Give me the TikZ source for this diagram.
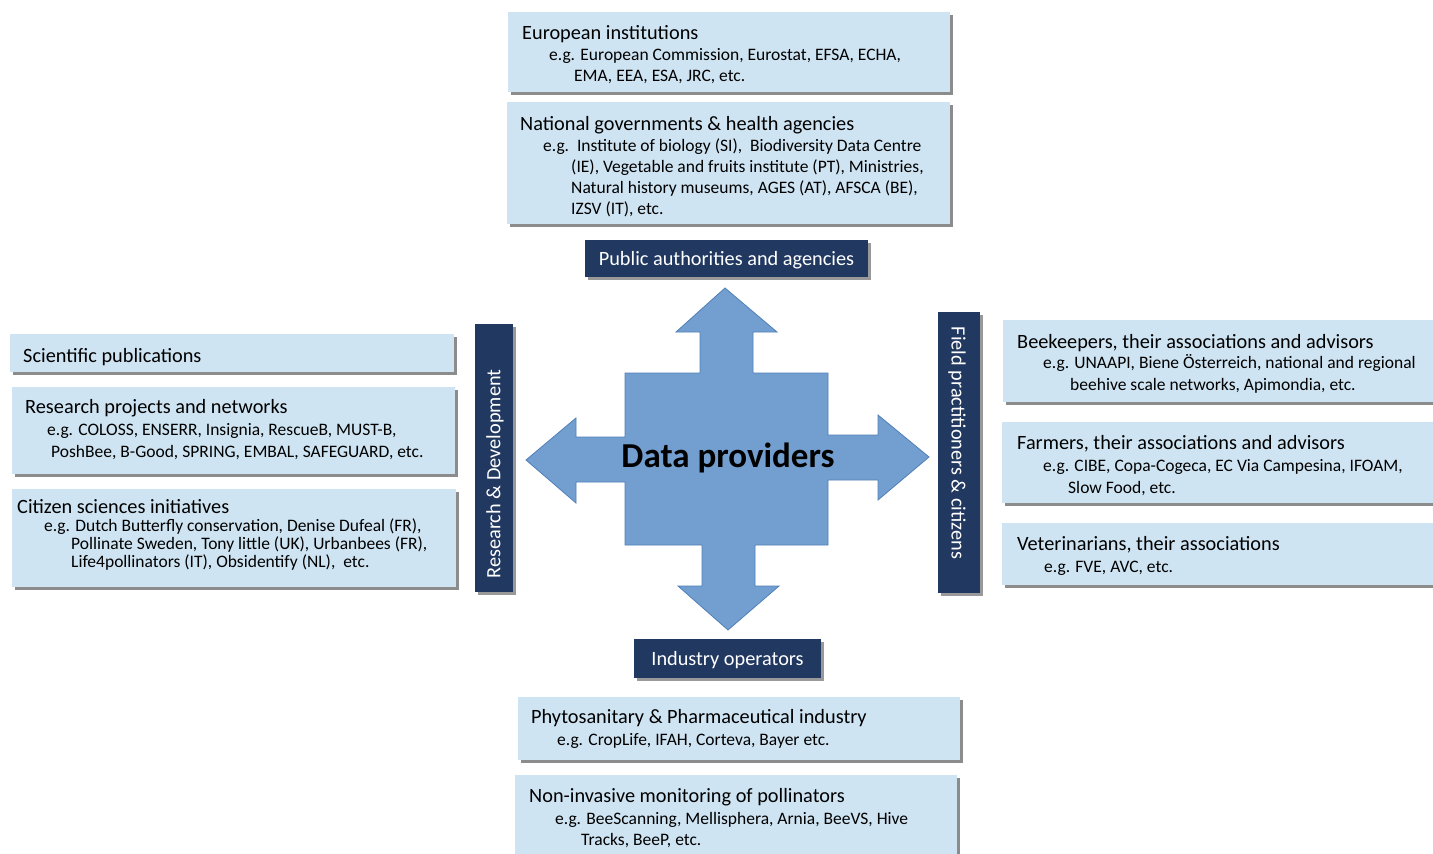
\documentclass[tikz,border=0pt]{standalone}
\usepackage{fontspec}
\setmainfont{Carlito}
\usetikzlibrary{shadows}
\definecolor{lightbox}{RGB}{207,228,242}
\definecolor{darkbox}{RGB}{33,56,97}
\definecolor{arrowfill}{RGB}{114,159,207}
\definecolor{arrowline}{RGB}{80,128,185}
\tikzset{
  lbox/.style={fill=lightbox, draw=none, inner sep=0pt, outer sep=0pt,
    drop shadow={shadow xshift=3pt, shadow yshift=-3pt, fill=black!45, opacity=1}},
  dbox/.style={fill=darkbox, draw=none, inner sep=0pt, outer sep=0pt, text=white,
    font=\fontsize{20.3}{22}\selectfont, text depth=0pt,
    drop shadow={shadow xshift=3pt, shadow yshift=-3pt, fill=black!40, opacity=1}},
  ttl/.style={anchor=base west, inner sep=0pt, font=\fontsize{20.3}{22}\selectfont},
  sub/.style={anchor=base west, inner sep=0pt, font=\fontsize{17.5}{20}\selectfont},
  vlbl/.style={text=white, font=\fontsize{20.3}{22}\selectfont, inner sep=0pt},
}
\begin{document}
\begin{tikzpicture}[x=1pt,y=-1pt]
\useasboundingbox (0,0) rectangle (1433,854);
\fill[white] (0,0) rectangle (1433,854);

% ---- top boxes
\node[lbox, minimum width=442pt, minimum height=80pt] (eu) at (729,52) {};
\node[ttl] (eut) at (522,39) {European institutions};
\node[sub] (eus1) at (549,60) {e.g. European Commission, Eurostat, EFSA, ECHA,};
\node[sub] (eus2) at (574,81) {EMA, EEA, ESA, JRC, etc.};

\node[lbox, minimum width=443pt, minimum height=122pt] (nat) at (728.5,163) {};
\node[ttl] (natt) at (520,130) {National governments \& health agencies};
\node[sub] (nats1) at (543,151) {e.g.\ \ Institute of biology (SI),\ \ Biodiversity Data Centre};
\node[sub] (nats2) at (571,172) {(IE), Vegetable and fruits institute (PT), Ministries,};
\node[sub] (nats3) at (571,193) {Natural history museums, AGES (AT), AFSCA (BE),};
\node[sub] (nats4) at (571,214) {IZSV (IT), etc.};

\node[dbox, minimum width=283pt, minimum height=37pt] (pub) at (726.5,258.5) {Public authorities and agencies};

% ---- left boxes
\node[lbox, minimum width=444pt, minimum height=38pt] (sci) at (232,353) {};
\node[ttl] (scit) at (23,362) {Scientific publications};

\node[lbox, minimum width=443pt, minimum height=87pt] (rp) at (233.5,430.5) {};
\node[ttl] (rpt) at (25,413) {Research projects and networks};
\node[sub] (rps1) at (47,435) {e.g. COLOSS, ENSERR, Insignia, RescueB, MUST-B,};
\node[sub] (rps2) at (51,457) {PoshBee, B-Good, SPRING, EMBAL, SAFEGUARD, etc.};

\node[lbox, minimum width=444pt, minimum height=98pt] (cs) at (234,538) {};
\node[ttl] (cst) at (17,513) {Citizen sciences initiatives};
\node[sub] (css1) at (44,531) {e.g. Dutch Butterfly conservation, Denise Dufeal (FR),};
\node[sub] (css2) at (71,549) {Pollinate Sweden, Tony little (UK), Urbanbees (FR),};
\node[sub] (css3) at (71,567) {Life4pollinators (IT), Obsidentify (NL),\ \ etc.};

\node[dbox, minimum width=38pt, minimum height=268pt] (rd) at (494,458) {};
\node[vlbl, rotate=90] (rdt) at (495,474) {Research \& Development};

% ---- right boxes
\node[dbox, minimum width=42pt, minimum height=281pt] (fp) at (959,452.5) {};
\node[vlbl, rotate=-90] (fpt) at (957,443) {Field practitioners \& citizens};

\node[lbox, minimum width=433pt, minimum height=82pt] (bk) at (1219.5,361) {};
\node[ttl] (bkt) at (1017,348) {Beekeepers, their associations and advisors};
\node[sub] (bks1) at (1043,368) {e.g. UNAAPI, Biene Österreich, national and regional};
\node[sub] (bks2) at (1070,390) {beehive scale networks, Apimondia, etc.};

\node[lbox, minimum width=434pt, minimum height=81pt] (fa) at (1219,462.5) {};
\node[ttl] (fat) at (1017,449) {Farmers, their associations and advisors};
\node[sub] (fas1) at (1043,471) {e.g. CIBE, Copa-Cogeca, EC Via Campesina, IFOAM,};
\node[sub] (fas2) at (1068,493) {Slow Food, etc.};

\node[lbox, minimum width=434pt, minimum height=62pt] (ve) at (1219,554) {};
\node[ttl] (vet) at (1017,550) {Veterinarians, their associations};
\node[sub] (ves1) at (1044,572) {e.g. FVE, AVC, etc.};

% ---- bottom boxes
\node[dbox, minimum width=187pt, minimum height=39pt] (ind) at (727.5,658.5) {Industry operators};

\node[lbox, minimum width=442pt, minimum height=63pt] (ph) at (739,728.5) {};
\node[ttl] (pht) at (531,723) {Phytosanitary \& Pharmaceutical industry};
\node[sub] (phs1) at (557,745) {e.g. CropLife, IFAH, Corteva, Bayer etc.};

\node[lbox, minimum width=442pt, minimum height=95pt] (ni) at (736,822.5) {};
\node[ttl] (nit) at (529,802) {Non-invasive monitoring of pollinators};
\node[sub] (nis1) at (555,824) {e.g. BeeScanning, Mellisphera, Arnia, BeeVS, Hive};
\node[sub] (nis2) at (581,845) {Tracks, BeeP, etc.};

% ---- central four-way arrow
\draw[fill=arrowfill, draw=arrowline, line width=0.8pt, line join=miter]
  (725,288) -- (777,332) -- (753,332) -- (753,373) -- (828,373) -- (828,435)
  -- (878,435) -- (878,415) -- (929,457) -- (878,500) -- (878,480) -- (828,480)
  -- (828,545) -- (755,545) -- (755,586) -- (779,586) -- (728,630) -- (678,586)
  -- (702,586) -- (702,545) -- (625,545) -- (625,482) -- (576,482) -- (576,503)
  -- (526,460) -- (576,418) -- (576,437) -- (625,437) -- (625,373) -- (700,373)
  -- (700,332) -- (676,332) -- cycle;
\node[font=\fontsize{35}{38}\selectfont\bfseries, inner sep=0pt] (dp) at (728,458) {Data providers};
\end{tikzpicture}
\end{document}
